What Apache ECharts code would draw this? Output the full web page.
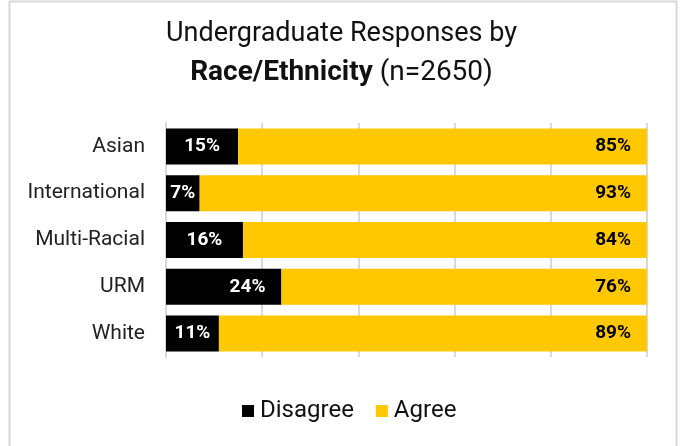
<!DOCTYPE html>
<html>
<head>
<meta charset="utf-8">
<script src="https://cdn.jsdelivr.net/npm/echarts@6/dist/echarts.min.js"></script>
<style>
  html, body { margin: 0; padding: 0; background: #fff; }
  #chart { width: 683px; height: 446px; }
</style>
</head>
<body>
<div id="chart"></div>
<script>
// Undergraduate responses by race/ethnicity (percent of respondents)
const categories = ['Asian', 'International', 'Multi-Racial', 'URM', 'White'];
const disagree = [15, 7, 16, 24, 11];
const agree = [85, 93, 84, 76, 89];
const xTicks = [0, 20, 40, 60, 80, 100];

const chart = echarts.init(document.getElementById('chart'));
const font = 'Roboto, "Noto Sans", sans-serif';

const disagreeData = disagree.map((v) => {
  const item = { value: v };
  // wider bar: keep its label toward the end of the bar
  if (v >= 20) item.label = { position: 'insideRight', distance: 16 };
  return item;
});

chart.setOption({
  backgroundColor: '#fff',
  animation: false,
  graphic: [{
    type: 'rect',
    shape: { x: 9.5, y: 1.5, width: 667, height: 460 },
    style: { fill: 'none', stroke: '#d9d9d9', lineWidth: 2 },
    silent: true
  }],
  title: [
    {
      text: 'Undergraduate Responses by',
      left: 'center',
      top: 21,
      padding: 0,
      textStyle: { fontFamily: font, fontSize: 27, fontWeight: 'normal', color: '#111' }
    },
    {
      text: '{b|Race/Ethnicity} {r|(n=2650)}',
      left: 'center',
      top: 59,
      padding: 0,
      textStyle: {
        fontFamily: font,
        fontSize: 28,
        color: '#111',
        rich: {
          b: { fontFamily: font, fontSize: 28, fontWeight: 'bold', color: '#111' },
          r: { fontFamily: font, fontSize: 28, fontWeight: 'normal', color: '#111' }
        }
      }
    }
  ],
  legend: {
    top: 394,
    left: 237,
    padding: 5,
    itemWidth: 12,
    itemHeight: 12,
    itemGap: 22,
    icon: 'rect',
    textStyle: { fontFamily: font, fontSize: 24, color: '#111', padding: [0, 0, 0, 1] },
    data: ['Disagree', 'Agree']
  },
  grid: { left: 166, right: 36, top: 123, bottom: 89 },
  xAxis: {
    type: 'value',
    min: xTicks[0],
    max: xTicks[xTicks.length - 1],
    interval: xTicks[1] - xTicks[0],
    axisLabel: { show: false },
    axisLine: { show: false },
    axisTick: { show: false },
    splitLine: { lineStyle: { color: '#d9d9d9', width: 2 } }
  },
  yAxis: {
    type: 'category',
    inverse: true,
    data: categories,
    axisTick: { show: false },
    axisLine: { show: true, lineStyle: { color: '#d9d9d9', width: 2 } },
    axisLabel: { fontFamily: font, fontSize: 21, color: '#222', margin: 21 }
  },
  series: [
    {
      name: 'Disagree',
      type: 'bar',
      stack: 'total',
      barWidth: 36,
      itemStyle: { color: '#000000' },
      label: {
        show: true,
        position: 'inside',
        formatter: '{c}%',
        fontFamily: font,
        fontSize: 19,
        fontWeight: 'bold',
        color: '#fff'
      },
      data: disagreeData
    },
    {
      name: 'Agree',
      type: 'bar',
      stack: 'total',
      barWidth: 36,
      itemStyle: { color: '#ffc800' },
      label: {
        show: true,
        position: 'insideRight',
        distance: 16,
        formatter: '{c}%',
        fontFamily: font,
        fontSize: 19,
        fontWeight: 'bold',
        color: '#000'
      },
      data: agree
    }
  ]
});
</script>
</body>
</html>
